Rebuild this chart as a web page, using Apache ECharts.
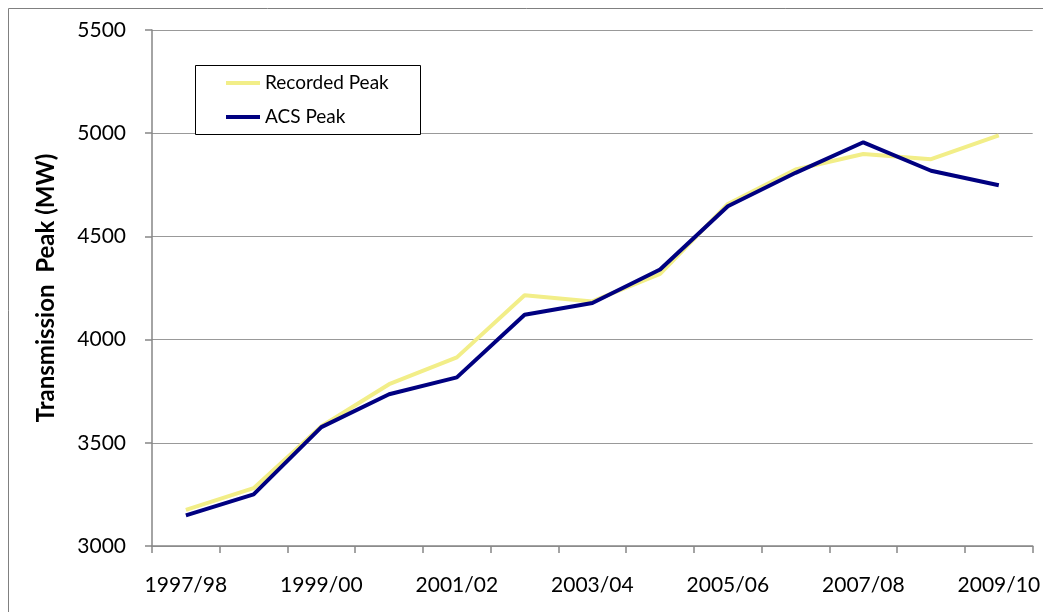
<!DOCTYPE html>
<html>
<head>
<meta charset="utf-8">
<script src="https://cdn.jsdelivr.net/npm/echarts@6/dist/echarts.min.js"></script>
<style>
  html, body { margin: 0; padding: 0; background: #fff; }
  #echarts { width: 1043px; height: 612px; }
</style>
</head>
<body>
<div id="echarts"></div>
<script>
const chartDom = document.getElementById('echarts');
const myChart = echarts.init(chartDom);

// 年度
const years = ['1997/98', '1998/99', '1999/00', '2000/01', '2001/02', '2002/03', '2003/04',
    '2004/05', '2005/06', '2006/07', '2007/08', '2008/09', '2009/10'];
// 实测峰值
const recordedPeak = [3175, 3280, 3580, 3784, 3914, 4215, 4185, 4318, 4657, 4824, 4899, 4874, 4990];
// ACS 峰值
const acsPeak = [3148, 3250, 3576, 3735, 3817, 4120, 4177, 4340, 4646, 4808, 4956, 4818, 4748];

const font = 'Lato, "Open Sans", sans-serif';
const axisGray = '#868686';

let option = {
    animation: false,
    textStyle: { fontFamily: font },
    grid: {
        left: 152,
        right: 8,
        top: 30,
        bottom: 66,
        containLabel: false
    },
    // 外框和图例框
    graphic: [
        {
            type: 'rect',
            shape: { x: 8.5, y: 8.5, width: 1100, height: 700 },
            style: { fill: null, stroke: '#808080', lineWidth: 1 },
            silent: true
        },
        {
            type: 'rect',
            shape: { x: 195.5, y: 65.5, width: 225, height: 69 },
            style: { fill: '#fff', stroke: '#000', lineWidth: 1 },
            silent: true,
            z: 5
        }
    ],
    legend: {
        orient: 'vertical',
        left: 226,
        top: 73,
        padding: 0,
        itemGap: 14,
        itemWidth: 34,
        itemHeight: 4,
        icon: 'rect',
        z: 10,
        textStyle: {
            fontFamily: font,
            fontSize: 19,
            color: '#000',
            lineHeight: 20,
            padding: [0, 0, 0, 0]
        },
        data: ['Recorded Peak', 'ACS Peak']
    },
    xAxis: {
        type: 'category',
        data: years,
        boundaryGap: true,
        axisLine: { lineStyle: { color: axisGray, width: 1.5 } },
        axisTick: { show: true, interval: 0, length: 7, lineStyle: { color: axisGray, width: 1.5 } },
        axisLabel: {
            interval: 1,
            margin: 29,
            fontFamily: font,
            fontSize: 21,
            color: '#000'
        },
        splitLine: { show: false }
    },
    yAxis: {
        type: 'value',
        min: 3000,
        max: 5500,
        interval: 500,
        name: 'Transmission  Peak (MW)',
        nameLocation: 'middle',
        nameRotate: 90,
        nameGap: 94,
        nameTextStyle: {
            fontFamily: font,
            fontSize: 24,
            fontWeight: 'bold',
            color: '#000'
        },
        axisLine: { show: true, lineStyle: { color: axisGray, width: 1.5 } },
        axisTick: { show: true, length: 7, lineStyle: { color: axisGray, width: 1.5 } },
        axisLabel: {
            margin: 26,
            fontFamily: font,
            fontSize: 21,
            color: '#000',
            padding: [4, 0, 0, 0],
            formatter: (value) => String(value)
        },
        splitLine: { show: true, lineStyle: { color: '#999', width: 1.2 } }
    },
    series: [
        {
            name: 'Recorded Peak',
            type: 'line',
            data: recordedPeak,
            symbol: 'none',
            lineStyle: { color: '#F2EE88', width: 4 },
            itemStyle: { color: '#F2EE88' },
            z: 2
        },
        {
            name: 'ACS Peak',
            type: 'line',
            data: acsPeak,
            symbol: 'none',
            lineStyle: { color: '#000080', width: 4 },
            itemStyle: { color: '#000080' },
            z: 3
        }
    ]
};
option && myChart.setOption(option);
</script>
</body>
</html>
